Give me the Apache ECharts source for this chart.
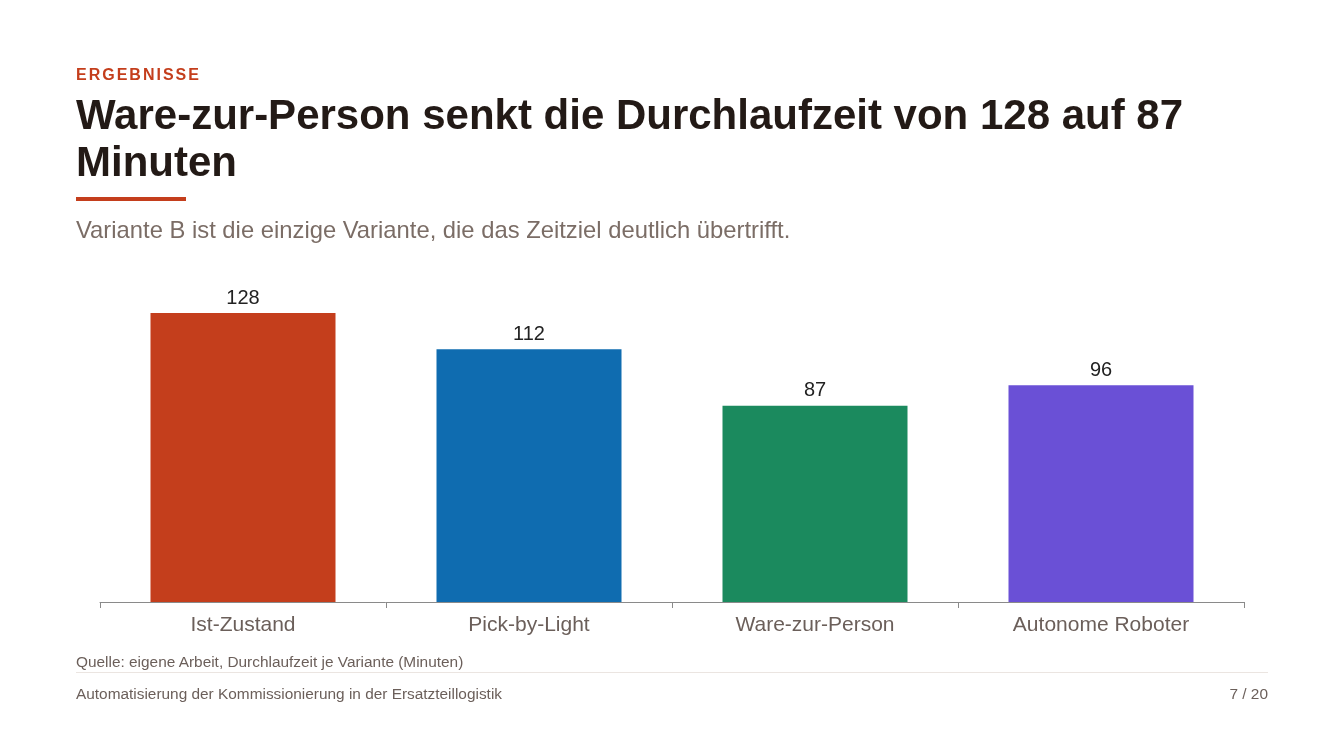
<!DOCTYPE html>
<html>
<head>
<meta charset="utf-8">
<script src="https://cdn.jsdelivr.net/npm/echarts@6/dist/echarts.min.js"></script>
<style>
  html, body { margin: 0; padding: 0; background: #fff; }
  body { width: 1344px; height: 756px; position: relative; overflow: hidden; font-family: "Liberation Sans", Arial, sans-serif; }
  #chart { position: absolute; left: 0; top: 0; width: 1344px; height: 756px; }
  .kicker { position: absolute; left: 76px; top: 66px; font-size: 16px; font-weight: bold; letter-spacing: 2px; color: #c43e1c; }
  .title { position: absolute; left: 76px; top: 91px; width: 1200px; font-size: 42px; line-height: 47px; font-weight: bold; color: #231a16; }
  .rule { position: absolute; left: 76px; top: 197px; width: 110px; height: 4px; background: #c43e1c; }
  .sub { position: absolute; left: 76px; top: 216px; font-size: 23.8px; color: #7b6d66; }
  .src { position: absolute; left: 76px; top: 653px; font-size: 15.4px; color: #6b5f5a; }
  .sep { position: absolute; left: 76px; top: 672px; width: 1192px; height: 1px; background: #ebe5e1; }
  .foot { position: absolute; left: 76px; top: 685px; font-size: 15.4px; color: #6b5f5a; }
  .page { position: absolute; right: 76px; top: 685px; font-size: 15.4px; color: #6b5f5a; }
</style>
</head>
<body>
<div id="chart"></div>
<div class="kicker">ERGEBNISSE</div>
<div class="title">Ware-zur-Person senkt die Durchlaufzeit von 128 auf 87 Minuten</div>
<div class="rule"></div>
<div class="sub">Variante B ist die einzige Variante, die das Zeitziel deutlich übertrifft.</div>
<div class="src">Quelle: eigene Arbeit, Durchlaufzeit je Variante (Minuten)</div>
<div class="sep"></div>
<div class="foot">Automatisierung der Kommissionierung in der Ersatzteillogistik</div>
<div class="page">7 / 20</div>
<script>
var categories = ['Ist-Zustand', 'Pick-by-Light', 'Ware-zur-Person', 'Autonome Roboter'];
var minutes = [128, 112, 87, 96];
var barColors = ['#c43e1c', '#0f6cb0', '#1b8a5e', '#6a50d6'];

var fontName = 'Liberation Sans';

var chart = echarts.init(document.getElementById('chart'));

var option = {
    animation: false,
    textStyle: { fontFamily: fontName },
    grid: {
        left: 100,
        right: 100,
        top: 286,
        bottom: 154
    },
    xAxis: {
        type: 'category',
        data: categories,
        axisLine: { lineStyle: { color: '#8a8a8a', width: 1 } },
        axisTick: { show: true, length: 6, lineStyle: { color: '#8a8a8a' } },
        axisLabel: {
            fontFamily: fontName,
            fontSize: 21,
            color: '#6b5f5a',
            margin: 13
        }
    },
    yAxis: {
        type: 'value',
        min: 0,
        max: 140,
        show: false,
        splitLine: { show: false }
    },
    series: [{
        type: 'bar',
        barWidth: 185,
        data: minutes.map(function (v, i) {
            return { value: v, itemStyle: { color: barColors[i] } };
        }),
        label: {
            show: true,
            position: 'top',
            distance: 5,
            fontFamily: fontName,
            fontSize: 20,
            color: '#222222'
        }
    }]
};

chart.setOption(option);
</script>
</body>
</html>
